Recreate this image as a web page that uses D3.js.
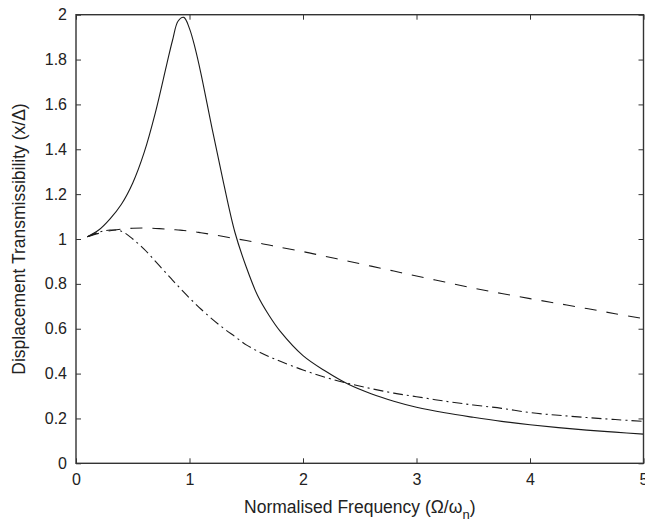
<!DOCTYPE html>
<html>
<head>
<meta charset="utf-8">
<script src="https://cdn.jsdelivr.net/npm/d3@7"></script>
<style>
  html, body { margin: 0; padding: 0; background: #fff; }
  svg { display: block; font-family: "Liberation Sans", Arial, sans-serif; }
</style>
</head>
<body>
<div id="chart"></div>
<script>
// frequency ratio samples
const freq = [0.1, 0.2, 0.3, 0.4, 0.5, 0.6, 0.7, 0.8, 0.85, 0.9, 0.95, 1.0, 1.05, 1.1, 1.2, 1.3, 1.4, 1.5, 1.6, 1.7,
  1.8, 2.0, 2.2, 2.4, 2.6, 2.8, 3.0, 3.25, 3.5, 3.75, 4.0, 4.25, 4.5, 4.75, 5.0];

// solid curve (sharp resonance)
const solid = [1.01, 1.04, 1.09, 1.155, 1.25, 1.385, 1.565, 1.78, 1.885, 1.972, 1.988, 1.938, 1.85, 1.74, 1.49, 1.25, 1.03, 0.875, 0.748, 0.66,
  0.588, 0.48, 0.41, 0.352, 0.31, 0.277, 0.25, 0.225, 0.205, 0.187, 0.172, 0.159, 0.148, 0.139, 0.13];

// dashed curve
const dashed = [1.01, 1.025, 1.037, 1.044, 1.048, 1.049, 1.047, 1.044, 1.042, 1.04, 1.038, 1.035, 1.032, 1.028, 1.02, 1.011, 1.002, 0.993, 0.983, 0.973,
  0.963, 0.944, 0.922, 0.901, 0.879, 0.857, 0.835, 0.808, 0.781, 0.757, 0.734, 0.712, 0.69, 0.667, 0.645];

// dash-dot curve
const dashDot = [1.01, 1.03, 1.04, 1.035, 1.0, 0.955, 0.9, 0.845, 0.817, 0.79, 0.763, 0.737, 0.712, 0.688, 0.643, 0.602, 0.565, 0.528, 0.5, 0.476,
  0.455, 0.416, 0.383, 0.356, 0.333, 0.313, 0.297, 0.277, 0.26, 0.245, 0.226, 0.214, 0.204, 0.195, 0.187];

const xTicks = [0, 1, 2, 3, 4, 5];
const yTicks = [0, 0.2, 0.4, 0.6, 0.8, 1, 1.2, 1.4, 1.6, 1.8, 2];

const options = { width: 645, height: 523 };
const margin = { top: 14.7, right: 1.5, bottom: 59.7, left: 76 };
const innerW = options.width - margin.left - margin.right;
const innerH = options.height - margin.top - margin.bottom;

const svg = d3.select('#chart')
  .append('svg')
  .attr('width', options.width)
  .attr('height', options.height);

const g = svg.append('g')
  .attr('transform', `translate(${margin.left},${margin.top})`);

const x = d3.scaleLinear().domain([0, 5]).range([0, innerW]);
const y = d3.scaleLinear().domain([0, 2]).range([innerH, 0]);

const axisColor = '#333';

function styleAxis(sel) {
  sel.selectAll('.domain').remove();
  sel.selectAll('.tick line').attr('stroke', axisColor).attr('stroke-width', 1);
  sel.selectAll('.tick text').attr('fill', '#222').attr('font-size', 16);
}

g.append('g')
  .attr('transform', `translate(0,${innerH})`)
  .call(d3.axisBottom(x).tickValues(xTicks).tickFormat(d3.format('d'))
    .tickSizeInner(-5).tickSizeOuter(0).tickPadding(10))
  .call(styleAxis);

g.append('g')
  .call(d3.axisTop(x).tickValues(xTicks).tickFormat('')
    .tickSizeInner(-5).tickSizeOuter(0))
  .call(styleAxis);

g.append('g')
  .call(d3.axisLeft(y).tickValues(yTicks).tickFormat(d3.format('~g'))
    .tickSizeInner(-5).tickSizeOuter(0).tickPadding(9))
  .call(styleAxis);

g.append('g')
  .attr('transform', `translate(${innerW},0)`)
  .call(d3.axisRight(y).tickValues(yTicks).tickFormat('')
    .tickSizeInner(-5).tickSizeOuter(0))
  .call(styleAxis);

// the curves
const line = d3.line()
  .x(d => x(d[0]))
  .y(d => y(d[1]))
  .curve(d3.curveCatmullRom.alpha(0.5));

const series = [
  { values: solid, dash: null },
  { values: dashed, dash: '12,10' },
  { values: dashDot, dash: '10,4,2,4' },
];

g.selectAll('path.curve')
  .data(series)
  .enter()
  .append('path')
  .attr('class', 'curve')
  .attr('fill', 'none')
  .attr('stroke', '#1a1a1a')
  .attr('stroke-width', 1.1)
  .attr('stroke-dasharray', d => d.dash)
  .attr('d', d => line(freq.map((f, i) => [f, d.values[i]])));

// axes box
g.append('rect')
  .attr('width', innerW)
  .attr('height', innerH)
  .attr('fill', 'none')
  .attr('stroke', axisColor)
  .attr('stroke-width', 1.4);

// axis labels
const xLabel = svg.append('text')
  .attr('x', margin.left + innerW / 2)
  .attr('y', 513)
  .attr('text-anchor', 'middle')
  .attr('font-size', 17.5)
  .attr('fill', '#222');
xLabel.append('tspan').text('Normalised Frequency (\u03A9/\u03C9');
xLabel.append('tspan').attr('dy', 6).attr('font-size', 13).text('n');
xLabel.append('tspan').attr('dy', -6).text(')');

svg.append('text')
  .attr('transform', `translate(24.5,${margin.top + innerH / 2}) rotate(-90)`)
  .attr('text-anchor', 'middle')
  .attr('font-size', 17.5)
  .attr('fill', '#222')
  .text('Displacement Transmissibility (x/\u0394)');
</script>
</body>
</html>
